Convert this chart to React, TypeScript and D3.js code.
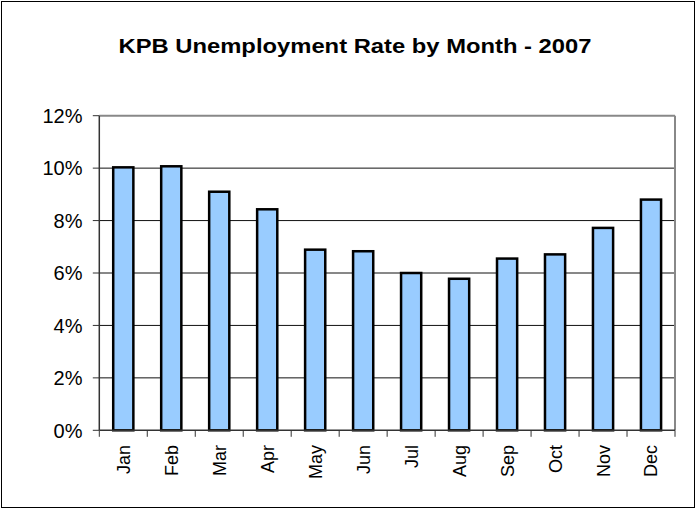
import React from "react";
import * as d3 from "d3";

const months = ["Jan", "Feb", "Mar", "Apr", "May", "Jun", "Jul", "Aug", "Sep", "Oct", "Nov", "Dec"];
const rates = [10.03, 10.07, 9.1, 8.43, 6.89, 6.83, 6.0, 5.78, 6.55, 6.71, 7.72, 8.8];
const yTicks = [0, 2, 4, 6, 8, 10, 12];
const title = "KPB Unemployment Rate by Month - 2007";

const W = 697;
const H = 510;
const left = 99.3;
const right = 675;
const top = 115.7;
const bottom = 430.3;
const font = "'Liberation Sans', Arial, sans-serif";

export default function App() {
  const x = d3.scaleBand<string>().domain(months).range([left, right]).paddingInner(0.58).paddingOuter(0.29);
  const xc = d3.scaleBand<string>().domain(months).range([left, right]).padding(0);
  const y = d3.scaleLinear().domain([0, 12]).range([bottom, top]);

  return (
    <svg width={W} height={H} style={{ position: "absolute", left: 0, top: 0 }}>
      <rect x={0} y={0} width={W} height={H} fill="#fff" />
      <rect x={1.5} y={1.5} width={693} height={506} fill="none" stroke="#000" strokeWidth={1} />
      <text
        x={355}
        y={53}
        textAnchor="middle"
        fontFamily={font}
        fontWeight="bold"
        fontSize={21}
        textLength={473}
        lengthAdjust="spacingAndGlyphs"
        fill="#000"
      >
        {title}
      </text>
      {yTicks.filter((t) => t > 0 && t < 12).map((t) => (
        <line key={"g" + t} x1={left} x2={right} y1={y(t)} y2={y(t)} stroke="#111" strokeWidth={1} />
      ))}
      <line x1={left} x2={right} y1={top} y2={top} stroke="#888" strokeWidth={2} />
      <line x1={right} x2={right} y1={top} y2={bottom} stroke="#888" strokeWidth={2} />
      {months.map((m, i) => (
        <rect
          key={m}
          x={x(m)!}
          y={y(rates[i])}
          width={x.bandwidth()}
          height={bottom - y(rates[i])}
          fill="#99CCFF"
          stroke="#000"
          strokeWidth={2.5}
        />
      ))}
      <line x1={left} x2={left} y1={top} y2={bottom} stroke="#333" strokeWidth={1.5} />
      <line x1={left} x2={right} y1={bottom} y2={bottom} stroke="#333" strokeWidth={1.5} />
      {yTicks.map((t) => (
        <g key={"y" + t}>
          <line x1={left - 6.5} x2={left} y1={y(t)} y2={y(t)} stroke="#333" strokeWidth={1} />
          <text
            x={82.5}
            y={y(t)}
            dy="0.36em"
            textAnchor="end"
            fontFamily={font}
            fontSize={20}
            fill="#000"
          >
            {t + "%"}
          </text>
        </g>
      ))}
      {[...months.map((m) => xc(m)!), right].map((v, i) => (
        <line key={"xt" + i} x1={v} x2={v} y1={bottom} y2={bottom + 6.5} stroke="#333" strokeWidth={1} />
      ))}
      {months.map((m) => {
        const cx = x(m)! + x.bandwidth() / 2;
        return (
          <text
            key={"xl" + m}
            transform={`translate(${cx},445) rotate(-90)`}
            textAnchor="end"
            dy="0.36em"
            fontFamily={font}
            fontSize={18}
            fill="#000"
          >
            {m}
          </text>
        );
      })}
    </svg>
  );
}
